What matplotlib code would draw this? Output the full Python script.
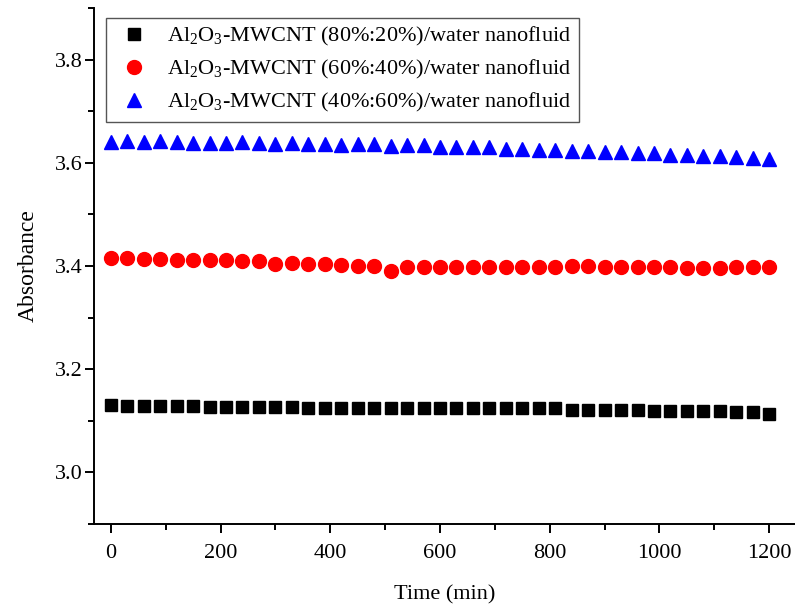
import matplotlib
matplotlib.use("Agg")
import matplotlib.pyplot as plt
import numpy as np

plt.rcParams['font.family'] = ['Liberation Serif', 'DejaVu Serif']
plt.rcParams['mathtext.fontset'] = 'custom'
plt.rcParams['mathtext.rm'] = 'Liberation Serif'
plt.rcParams['mathtext.it'] = 'Liberation Serif:italic'
plt.rcParams['mathtext.default'] = 'regular'

# time in minutes, sampled every 30 min
time_min = list(range(0, 1201, 30))

abs_80_20 = [3.130, 3.128, 3.128, 3.128, 3.128, 3.128, 3.127, 3.127, 3.127, 3.127,
             3.127, 3.127, 3.125, 3.125, 3.125, 3.125, 3.125, 3.125, 3.125, 3.125,
             3.124, 3.124, 3.125, 3.124, 3.124, 3.124, 3.124, 3.124, 3.122, 3.122,
             3.122, 3.122, 3.122, 3.120, 3.120, 3.119, 3.119, 3.119, 3.118, 3.117,
             3.114]

abs_60_40 = [3.4155, 3.4155, 3.413, 3.414, 3.412, 3.412, 3.412, 3.411, 3.409, 3.410,
             3.404, 3.405, 3.403, 3.403, 3.402, 3.400, 3.400, 3.391, 3.399, 3.398,
             3.398, 3.398, 3.398, 3.398, 3.398, 3.398, 3.398, 3.398, 3.400, 3.400,
             3.398, 3.398, 3.398, 3.398, 3.398, 3.397, 3.397, 3.396, 3.398, 3.398,
             3.398]

abs_40_60 = [3.641, 3.642, 3.641, 3.642, 3.641, 3.638, 3.639, 3.639, 3.641, 3.638,
             3.636, 3.638, 3.636, 3.636, 3.634, 3.636, 3.636, 3.633, 3.634, 3.634,
             3.631, 3.631, 3.630, 3.631, 3.627, 3.627, 3.625, 3.625, 3.623, 3.622,
             3.620, 3.620, 3.618, 3.618, 3.615, 3.615, 3.614, 3.614, 3.612, 3.610,
             3.608]

labels = [r'Al$_2$O$_3$-MWCNT (80%:20%)/water nanofluid',
          r'Al$_2$O$_3$-MWCNT (60%:40%)/water nanofluid',
          r'Al$_2$O$_3$-MWCNT (40%:60%)/water nanofluid']

fig = plt.figure(figsize=(7.95, 6.08), dpi=100)
ax = fig.add_axes([0.118, 0.138, 0.882, 0.849])

ax.plot(time_min, abs_80_20, 's', color='black', markersize=9, linestyle='none', label=labels[0])
ax.plot(time_min, abs_60_40, 'o', color='red', markersize=10, linestyle='none', label=labels[1])
ax.plot(time_min, abs_40_60, '^', color='blue', markersize=10, linestyle='none', label=labels[2])

ax.set_xlim(-31, 1247)
ax.set_ylim(2.9, 3.9)
ax.set_xticks(range(0, 1201, 200))
ax.set_xticks(range(100, 1201, 200), minor=True)
ax.set_yticks([3.0, 3.2, 3.4, 3.6, 3.8])
ax.set_yticks([2.9, 3.1, 3.3, 3.5, 3.7, 3.9], minor=True)
ax.set_yticklabels(['3.0', '3.2', '3.4', '3.6', '3.8'])

ax.spines['top'].set_visible(False)
ax.spines['right'].set_visible(False)
for s in ['left', 'bottom']:
    ax.spines[s].set_linewidth(1.4)
ax.tick_params(which='major', direction='out', length=6.5, width=1.4, labelsize=16)
ax.tick_params(axis='y', which='major', pad=1.5)
ax.tick_params(axis='x', which='major', pad=8)
ax.tick_params(which='minor', direction='out', length=4.3, width=1.4)

ax.set_xlabel('Time (min)', fontsize=16, labelpad=16)
ax.set_ylabel('Absorbance', fontsize=17, labelpad=12)

leg = ax.legend(loc='upper left', bbox_to_anchor=(0.011, 0.99), fontsize=16,
                fancybox=False, edgecolor='#555555', framealpha=1,
                handletextpad=0.6, labelspacing=0.45, borderpad=0.35,
                handlelength=1.8, borderaxespad=0.2)
leg.get_frame().set_linewidth(1.0)

fig.savefig('out.png', dpi=100)
